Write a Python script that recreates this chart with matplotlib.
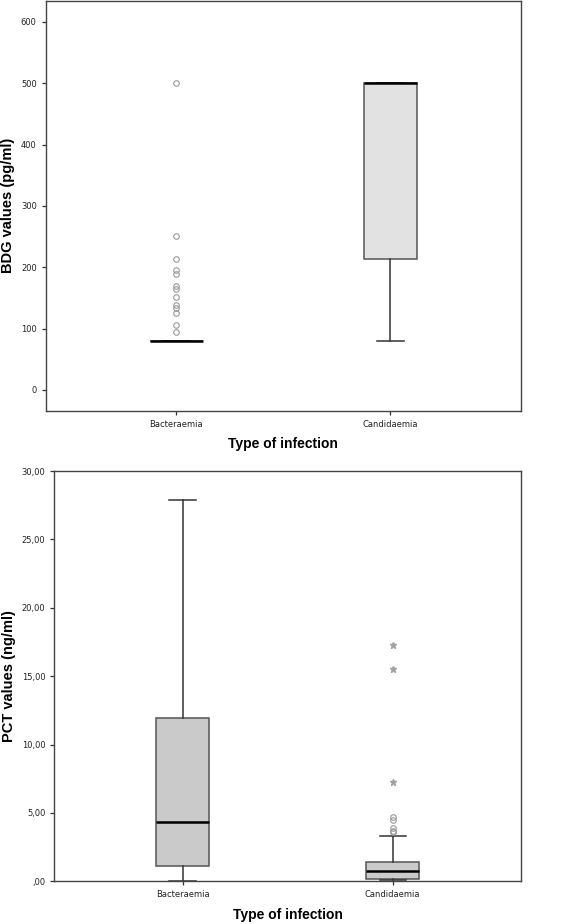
import numpy as np
import matplotlib.pyplot as plt
from matplotlib.ticker import FuncFormatter

groups = ["Bacteraemia", "Candidaemia"]

# BDG (pg/ml) box stats per group
bdg_q1 = [79, 213]
bdg_med = [79, 500]
bdg_q3 = [79, 500]
bdg_lo = [79, 79]
bdg_hi = [79, 500]
bdg_out = [[500, 251, 213, 195, 189, 169, 164, 152, 138, 134, 125, 106, 94], []]

# PCT (ng/ml) box stats per group
pct_q1 = [1.14, 0.19]
pct_med = [4.32, 0.73]
pct_q3 = [11.97, 1.44]
pct_lo = [0.05, 0.07]
pct_hi = [27.87, 3.31]
pct_out = [[], [4.73, 4.48, 3.88, 3.70, 3.58]]
pct_extreme = [[], [17.29, 15.5, 7.29]]

plt.rcParams['font.family'] = ['Liberation Sans', 'DejaVu Sans']
tickfont = dict(family='DejaVu Sans', size=6)

fig = plt.figure(figsize=(5.67, 9.24), dpi=100)
ax1 = fig.add_axes([0.0806, 0.5555, 0.838, 0.4434])
ax2 = fig.add_axes([0.0958, 0.0462, 0.823, 0.4440])


def stats(q1, med, q3, lo, hi, out):
    return [dict(q1=q1[i], med=med[i], q3=q3[i], whislo=lo[i], whishi=hi[i],
                 fliers=out[i], label=groups[i]) for i in range(len(groups))]


def draw(ax, st, face):
    ax.bxp(st, positions=[1, 2], widths=0.25, patch_artist=True,
           boxprops=dict(facecolor=face, edgecolor='#555555', linewidth=1.1),
           whiskerprops=dict(color='#333333', linewidth=1.1),
           capprops=dict(color='#333333', linewidth=1.1),
           medianprops=dict(color='black', linewidth=1.8),
           flierprops=dict(marker='o', markersize=4, markerfacecolor='none',
                           markeredgecolor='#999999', markeredgewidth=0.8),
           capwidths=0.125)
    ax.set_xlim(0.39, 2.61)
    ax.set_xticks([1, 2])
    ax.set_xticklabels(groups)
    ax.set_xlabel("Type of infection", fontsize=10, fontweight='bold', labelpad=6)
    ax.tick_params(axis='both', direction='out', length=3, width=0.9,
                   colors='#333333', labelcolor='#222222')
    for s in ax.spines.values():
        s.set_color('#444444')
        s.set_linewidth(1.0)


def fix_ticks(ax):
    for t in ax.get_xticklabels() + ax.get_yticklabels():
        t.set_fontfamily(tickfont['family'])
        t.set_fontsize(tickfont['size'])


draw(ax1, stats(bdg_q1, bdg_med, bdg_q3, bdg_lo, bdg_hi, bdg_out), '#e2e2e2')
ax1.set_ylim(-34, 634)
ax1.set_yticks(np.arange(0, 601, 100))
ax1.set_ylabel("BDG values (pg/ml)", fontsize=10.5, fontweight='bold', labelpad=4)
fix_ticks(ax1)

draw(ax2, stats(pct_q1, pct_med, pct_q3, pct_lo, pct_hi, pct_out), '#cacaca')
for i, vals in enumerate(pct_extreme):
    if vals:
        ax2.plot([i + 1] * len(vals), vals, linestyle='none', marker='*',
                 markersize=5, color='#a0a0a0')
ax2.set_ylim(0, 30)
ax2.set_yticks(np.arange(0, 31, 5))
ax2.yaxis.set_major_formatter(FuncFormatter(
    lambda v, p: ",00" if v == 0 else f"{v:.2f}".replace(".", ",")))
ax2.set_ylabel("PCT values (ng/ml)", fontsize=10.5, fontweight='bold', labelpad=4)
fix_ticks(ax2)

fig.savefig("out.png", dpi=100)
